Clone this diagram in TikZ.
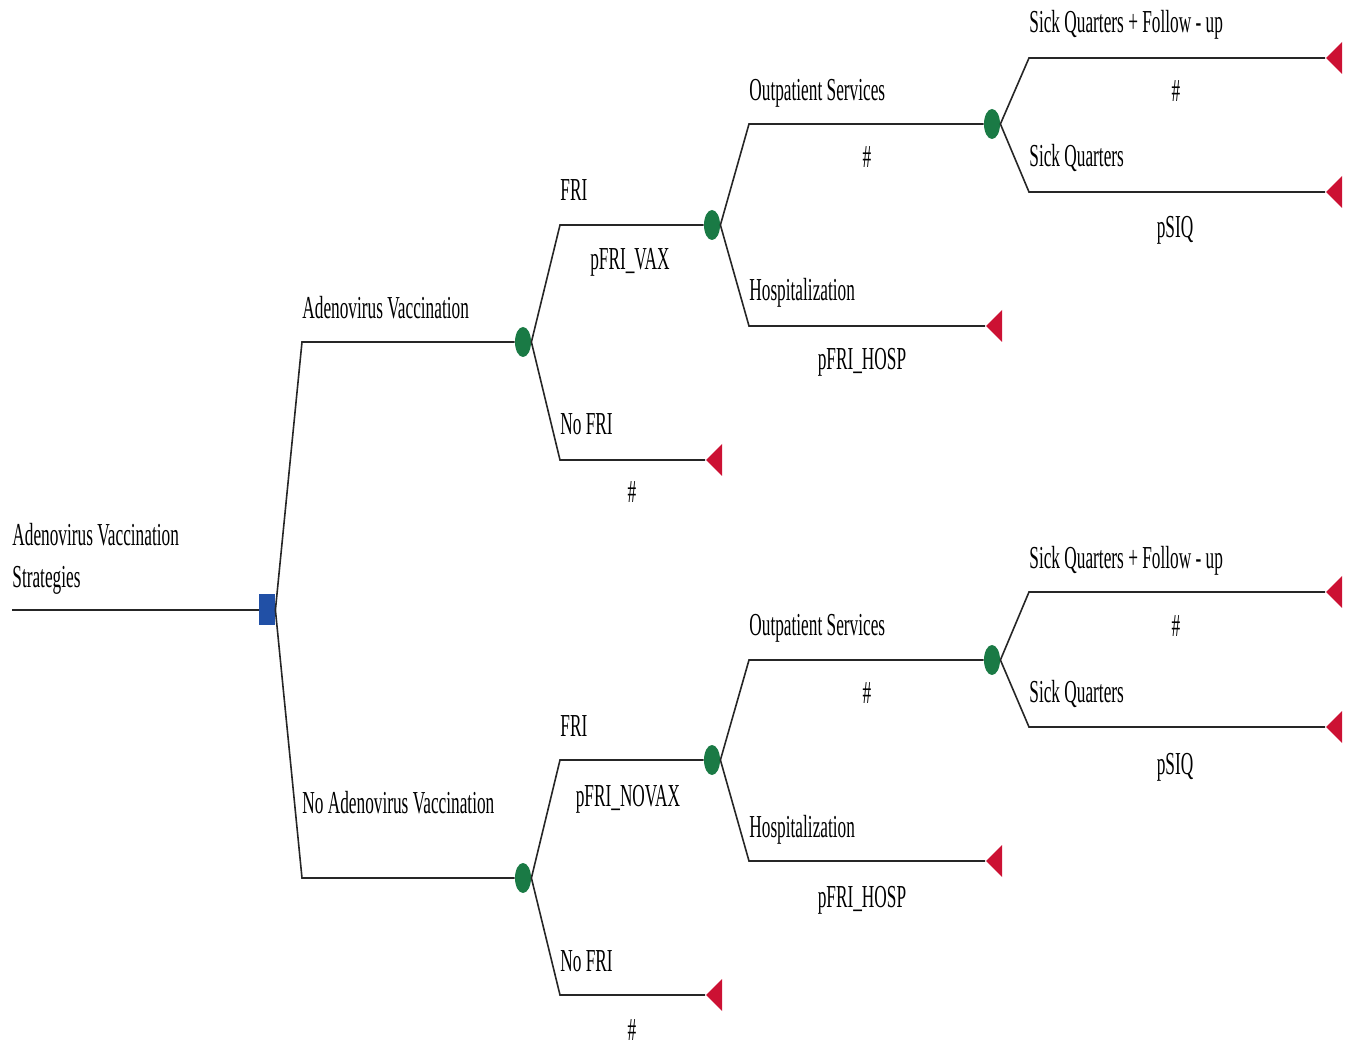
\documentclass[tikz,border=0pt]{standalone}
\usepackage{fontspec}
\setmainfont{Liberation Serif}[FakeStretch=0.54]
\usetikzlibrary{shapes.geometric}

\definecolor{decblue}{HTML}{2150A6}
\definecolor{chgreen}{HTML}{1A7A45}
\definecolor{termred}{HTML}{CC1133}

\tikzset{
  branch/.style={draw=black!85, line width=0.8pt},
  decision/.style={rectangle, fill=decblue, minimum width=8pt, minimum height=15.5pt, inner sep=0pt},
  chance/.style={ellipse, fill=chgreen, minimum width=8pt, minimum height=15pt, inner sep=0pt},
  terminal/.style={isosceles triangle, isosceles triangle stretches, shape border rotate=180,
    fill=termred, minimum height=8pt, minimum width=16pt, inner sep=0pt},
  lbl/.style={inner sep=0pt, font=\fontsize{16}{21}\selectfont},
}

\begin{document}
\begin{tikzpicture}[x=0.5pt, y=-0.5pt]
    \useasboundingbox (0,0) rectangle (1357,1048);

    % root and decision
    \coordinate (r0) at (12,610);
    \node[decision] (dec) at (267,610) {};
    \draw[branch] (r0) -- (dec.west);
    \node[lbl, anchor=south west, align=left] (rootlbl) at (12,595) {Adenovirus Vaccination\\Strategies};

    % upper half: vaccination
    \coordinate (v0) at (302,342);
    \node[chance] (cv) at (523,342) {};
    \draw[branch] (dec.east) -- (v0) -- (cv.west);
    \node[lbl, anchor=base west] (lv) at (302,319) {Adenovirus Vaccination};

    \coordinate (vf0) at (560,225);
    \node[chance] (cvf) at (712,225) {};
    \draw[branch] (cv.east) -- (vf0) -- (cvf.west);
    \node[lbl, anchor=base west] (lvf) at (560,201) {FRI};
    \node[lbl, anchor=base] (pvf) at (630,270) {pFRI\_VAX};

    \coordinate (vn0) at (560,460);
    \node[terminal, anchor=apex] (tvn) at (705,460) {};
    \draw[branch] (cv.east) -- (vn0) -- (tvn.apex);
    \node[lbl, anchor=base west] (lvn) at (560,435) {No FRI};
    \node[lbl, anchor=base] (pvn) at (632,503) {\#};

    \coordinate (vo0) at (749,124);
    \node[chance] (cvo) at (992,124) {};
    \draw[branch] (cvf.east) -- (vo0) -- (cvo.west);
    \node[lbl, anchor=base west] (lvo) at (749,101) {Outpatient Services};
    \node[lbl, anchor=base] (pvo) at (867,168) {\#};

    \coordinate (vh0) at (749,326);
    \node[terminal, anchor=apex] (tvh) at (985,326) {};
    \draw[branch] (cvf.east) -- (vh0) -- (tvh.apex);
    \node[lbl, anchor=base west] (lvh) at (749,301) {Hospitalization};
    \node[lbl, anchor=base] (pvh) at (862,370) {pFRI\_HOSP};

    \coordinate (vs0) at (1029,58);
    \node[terminal, anchor=apex] (tvs) at (1325,58) {};
    \draw[branch] (cvo.east) -- (vs0) -- (tvs.apex);
    \node[lbl, anchor=base west] (lvs) at (1029,33) {Sick Quarters + Follow - up};
    \node[lbl, anchor=base] (pvs) at (1176,102) {\#};

    \coordinate (vq0) at (1029,192);
    \node[terminal, anchor=apex] (tvq) at (1325,192) {};
    \draw[branch] (cvo.east) -- (vq0) -- (tvq.apex);
    \node[lbl, anchor=base west] (lvq) at (1029,167) {Sick Quarters};
    \node[lbl, anchor=base] (pvq) at (1175,238) {pSIQ};

    % lower half: no vaccination
    \coordinate (n0) at (302,878);
    \node[chance] (cn) at (523,878) {};
    \draw[branch] (dec.east) -- (n0) -- (cn.west);
    \node[lbl, anchor=base west] (ln) at (302,813) {No Adenovirus Vaccination};

    \coordinate (nf0) at (560,760);
    \node[chance] (cnf) at (712,760) {};
    \draw[branch] (cn.east) -- (nf0) -- (cnf.west);
    \node[lbl, anchor=base west] (lnf) at (560,736) {FRI};
    \node[lbl, anchor=base] (pnf) at (628,806) {pFRI\_NOVAX};

    \coordinate (nn0) at (560,995);
    \node[terminal, anchor=apex] (tnn) at (705,995) {};
    \draw[branch] (cn.east) -- (nn0) -- (tnn.apex);
    \node[lbl, anchor=base west] (lnn) at (560,971) {No FRI};
    \node[lbl, anchor=base] (pnn) at (632,1040) {\#};

    \coordinate (no0) at (749,660);
    \node[chance] (cno) at (992,660) {};
    \draw[branch] (cnf.east) -- (no0) -- (cno.west);
    \node[lbl, anchor=base west] (lno) at (749,636) {Outpatient Services};
    \node[lbl, anchor=base] (pno) at (867,704) {\#};

    \coordinate (nh0) at (749,861);
    \node[terminal, anchor=apex] (tnh) at (985,861) {};
    \draw[branch] (cnf.east) -- (nh0) -- (tnh.apex);
    \node[lbl, anchor=base west] (lnh) at (749,837) {Hospitalization};
    \node[lbl, anchor=base] (pnh) at (862,907) {pFRI\_HOSP};

    \coordinate (ns0) at (1029,592);
    \node[terminal, anchor=apex] (tns) at (1325,592) {};
    \draw[branch] (cno.east) -- (ns0) -- (tns.apex);
    \node[lbl, anchor=base west] (lns) at (1029,569) {Sick Quarters + Follow - up};
    \node[lbl, anchor=base] (pns) at (1176,637) {\#};

    \coordinate (nq0) at (1029,727);
    \node[terminal, anchor=apex] (tnq) at (1325,727) {};
    \draw[branch] (cno.east) -- (nq0) -- (tnq.apex);
    \node[lbl, anchor=base west] (lnq) at (1029,703) {Sick Quarters};
    \node[lbl, anchor=base] (pnq) at (1175,774) {pSIQ};
  \end{tikzpicture}
\end{document}
